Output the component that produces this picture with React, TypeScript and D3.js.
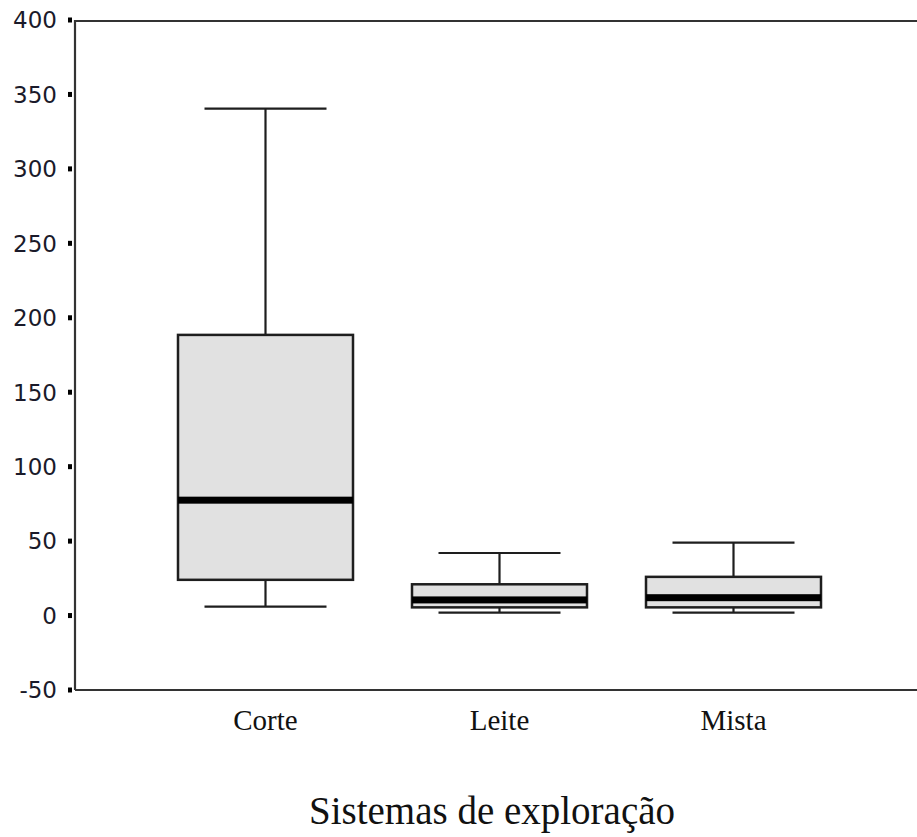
import React from "react";
import * as d3 from "d3";

// Sistemas de exploração – box summaries
const categories = ["Corte", "Leite", "Mista"];
const whiskerLow = [6, 2, 2];
const q1 = [24, 5.5, 5.5];
const median = [77.5, 10.5, 12];
const q3 = [188.5, 21, 26];
const whiskerHigh = [340.5, 42, 49];
const yTicks = [-50, 0, 50, 100, 150, 200, 250, 300, 350, 400];

const W = 917;
const H = 837;

export default function App() {
  const y = d3.scaleLinear().domain([-50, 400]).range([690, 20]);
  const x = d3.scalePoint<string>().domain(categories).range([265.5, 733.5]);
  const boxW = 175;
  const capW = 122;
  const axisX = 75;
  const stroke = "#1e1e1e";

  return (
    <svg
      width={W}
      height={H}
      style={{ position: "absolute", left: 0, top: 0, background: "#fff" }}
    >
      {/* frame */}
      <line x1={axisX} x2={W} y1={y(400) + 1} y2={y(400) + 1} stroke="#333" strokeWidth={2.2} />
      <line x1={axisX} x2={W} y1={y(-50)} y2={y(-50)} stroke="#333" strokeWidth={2.2} />
      <line x1={axisX} x2={axisX} y1={y(400)} y2={y(-50)} stroke="#333" strokeWidth={2.2} />

      {/* y ticks */}
      {yTicks.map((t) => (
        <g key={t}>
          <rect x={68} y={y(t) - 2.5} width={4} height={5} fill="#000" />
          <text
            x={57}
            y={y(t)}
            dy="0.36em"
            textAnchor="end"
            fontFamily="DejaVu Sans, Verdana, sans-serif"
            fontSize={23}
            fill="#1a1a2a"
          >
            {t}
          </text>
        </g>
      ))}

      {/* boxes */}
      {categories.map((c, i) => {
        const cx = x(c) as number;
        return (
          <g key={c}>
            <line x1={cx} x2={cx} y1={y(q3[i])} y2={y(whiskerHigh[i])} stroke={stroke} strokeWidth={2.2} />
            <line x1={cx} x2={cx} y1={y(q1[i])} y2={y(whiskerLow[i])} stroke={stroke} strokeWidth={2.2} />
            <line
              x1={cx - capW / 2}
              x2={cx + capW / 2}
              y1={y(whiskerHigh[i])}
              y2={y(whiskerHigh[i])}
              stroke={stroke}
              strokeWidth={2.2}
            />
            <line
              x1={cx - capW / 2}
              x2={cx + capW / 2}
              y1={y(whiskerLow[i])}
              y2={y(whiskerLow[i])}
              stroke={stroke}
              strokeWidth={2.2}
            />
            <rect
              x={cx - boxW / 2}
              y={y(q3[i])}
              width={boxW}
              height={y(q1[i]) - y(q3[i])}
              fill="#e1e1e1"
              stroke={stroke}
              strokeWidth={2.5}
            />
            <rect
              x={cx - boxW / 2}
              y={y(median[i]) - 3.5}
              width={boxW}
              height={7}
              fill="#000"
            />
            <text
              x={cx}
              y={730}
              textAnchor="middle"
              fontFamily="Liberation Serif, Times New Roman, serif"
              fontSize={29}
              fill="#111"
            >
              {c}
            </text>
          </g>
        );
      })}

      <text
        x={492}
        y={824}
        textAnchor="middle"
        fontFamily="Liberation Serif, Times New Roman, serif"
        fontSize={39}
        fill="#111"
      >
        Sistemas de exploração
      </text>
    </svg>
  );
}
